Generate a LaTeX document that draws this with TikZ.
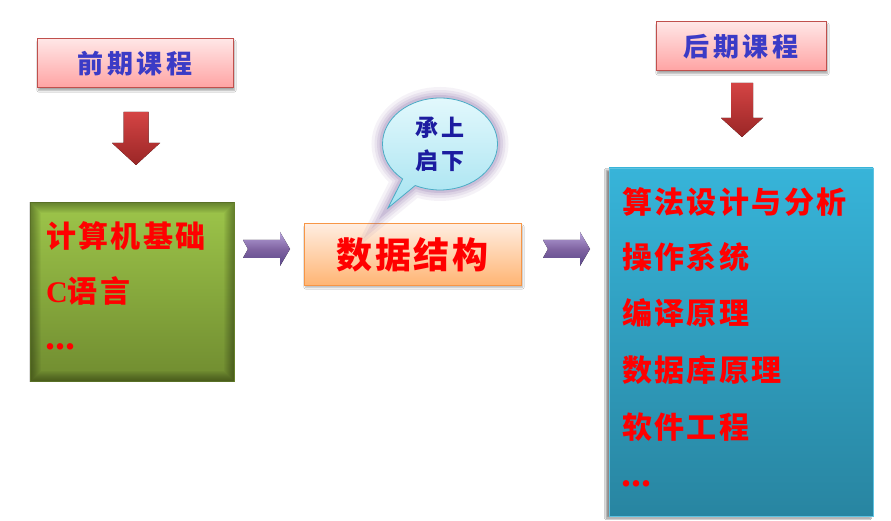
\documentclass[tikz,border=0pt]{standalone}
\usepackage{fontspec}
\newfontfamily\cjk[LetterSpace=8]{Noto Sans CJK SC}
\newfontfamily\cjkwide[LetterSpace=14]{Noto Sans CJK SC}
\newfontfamily\serifb{Liberation Serif}
\usetikzlibrary{shapes.callouts,shadows.blur}
\definecolor{pinkTop}{HTML}{FFE6E6}
\definecolor{pinkBot}{HTML}{FFA3A3}
\definecolor{pinkBorder}{HTML}{C0504D}
\definecolor{hdrBlue}{HTML}{3B3BC6}
\definecolor{arrTop}{HTML}{D44444}
\definecolor{arrBot}{HTML}{9A2626}
\definecolor{greenTop}{HTML}{9DC54A}
\definecolor{greenBot}{HTML}{708C30}
\definecolor{greenBorder}{HTML}{8AAE3E}
\definecolor{txtRed}{HTML}{FF0000}
\definecolor{purTop}{HTML}{B6A2DA}
\definecolor{purMid}{HTML}{8064A2}
\definecolor{purBot}{HTML}{5A4688}
\definecolor{orTop}{HTML}{FFEDE0}
\definecolor{orBot}{HTML}{FFB574}
\definecolor{orBorder}{HTML}{F79646}
\definecolor{bubTop}{HTML}{E2F8FC}
\definecolor{bubBot}{HTML}{A6E3F1}
\definecolor{bubBorder}{HTML}{4BACC6}
\definecolor{bubText}{HTML}{1C1CA0}
\definecolor{glow}{HTML}{8064A2}
\definecolor{bluTop}{HTML}{37B4D9}
\definecolor{bluBot}{HTML}{2885A1}
\tikzset{
  hdr/.style={draw=pinkBorder, line width=1pt, top color=pinkTop, bottom color=pinkBot,
    minimum height=49pt, inner sep=0pt,
    blur shadow={shadow xshift=1.5pt, shadow yshift=-2.5pt, shadow blur steps=6, shadow opacity=35},
    font=\cjkwide\bfseries\fontsize{26}{30}\selectfont, text=hdrBlue},
  redtxt/.style={anchor=west, inner sep=0pt, text=txtRed, font=\cjk\bfseries\fontsize{30}{34}\selectfont},
  dots/.style={anchor=west, inner sep=0pt, text=txtRed, font=\serifb\bfseries\fontsize{40}{40}\selectfont},
  pics/downarr/.style args={#1/#2/#3/#4}{code={
    \fill[top color=arrTop, bottom color=arrBot]
      (-#1,0) -- (#1,0) -- (#1,#2) -- (#3,#2) -- (0,{#2+#4}) -- (-#3,#2) -- (-#1,#2) -- cycle;}},
  pics/purarr/.style={code={
    \fill[top color=purTop, bottom color=purBot, middle color=purMid]
      (0,-9) -- (37,-9) -- (37,-17) -- (47,0) -- (37,17) -- (37,9) -- (0,9) -- (5,0) -- cycle;}},
  bub/.style={ellipse callout, callout absolute pointer={(388,208)}, minimum width=115pt, minimum height=92pt}
}
\begin{document}
\begin{tikzpicture}[x=1pt,y=-1pt]
\useasboundingbox[fill=white] (0,0) rectangle (891,521);

% headers
\node[hdr, minimum width=196pt] (pre) at (135,63.5) {前期课程};
\node[hdr, minimum width=170pt] (post) at (741,46.5) {后期课程};

% down arrows
\pic at (136,112) {downarr={12.5/31/24/22}};
\pic at (742,83) {downarr={11/35/21/19}};

% green box
\node[draw=greenBorder, line width=1pt, top color=greenTop, bottom color=greenBot,
  minimum width=204pt, minimum height=178pt, inner sep=0pt] (pre box) at (132,292) {};
\begin{scope}
  \clip (pre box.north west) rectangle (pre box.south east);
  \foreach \w in {2,4,...,22}
    \draw[line width=\w pt, draw=black, draw opacity=0.035] (pre box.north west) rectangle (pre box.south east);
\end{scope}
\node[redtxt] (c1) at (46,236) {计算机基础};
\node[redtxt] (c2) at (46,291) {{\serifb\bfseries C}语言};
\node[dots] (c3) at (45,347) {...};

% purple arrows
\pic at (243,249) {purarr};
\pic at (543,249) {purarr};

% data structure box
\node[draw=orBorder, line width=1pt, top color=orTop, bottom color=orBot,
  minimum width=217pt, minimum height=61pt, inner sep=0pt,
  blur shadow={shadow xshift=1.5pt, shadow yshift=-2.5pt, shadow blur steps=6, shadow opacity=30},
  text=txtRed, font=\cjk\bfseries\fontsize{36}{40}\selectfont] (ds) at (412.5,254.5) {数据结构};

% speech bubble with glow
\foreach \w/\o in {22/0.08,16/0.10,11/0.13,6/0.18}
  \node[bub, draw=glow, line width=\w pt, draw opacity=\o] (glow\w) at (440,144) {};
\node[bub, draw=bubBorder, line width=0.8pt, top color=bubTop, bottom color=bubBot,
  text=bubText, align=center, inner sep=0pt,
  font=\cjkwide\bfseries\fontsize{23}{33}\selectfont] (bubble) at (440,144) {承上\\启下};

% blue box
\node[draw=bluTop!80!white, line width=0.6pt, top color=bluTop, bottom color=bluBot,
  minimum width=264pt, minimum height=348pt, inner sep=0pt,
  blur shadow={shadow xshift=-3pt, shadow yshift=-2pt, shadow blur steps=6, shadow opacity=45}] (post box) at (741,342) {};
\node[redtxt] (d1) at (622,202) {算法设计与分析};
\node[redtxt] (d2) at (622,257) {操作系统};
\node[redtxt] (d3) at (622,313) {编译原理};
\node[redtxt] (d4) at (622,370) {数据库原理};
\node[redtxt] (d5) at (622,427) {软件工程};
\node[dots] (d6) at (621,484) {...};
\end{tikzpicture}
\end{document}
